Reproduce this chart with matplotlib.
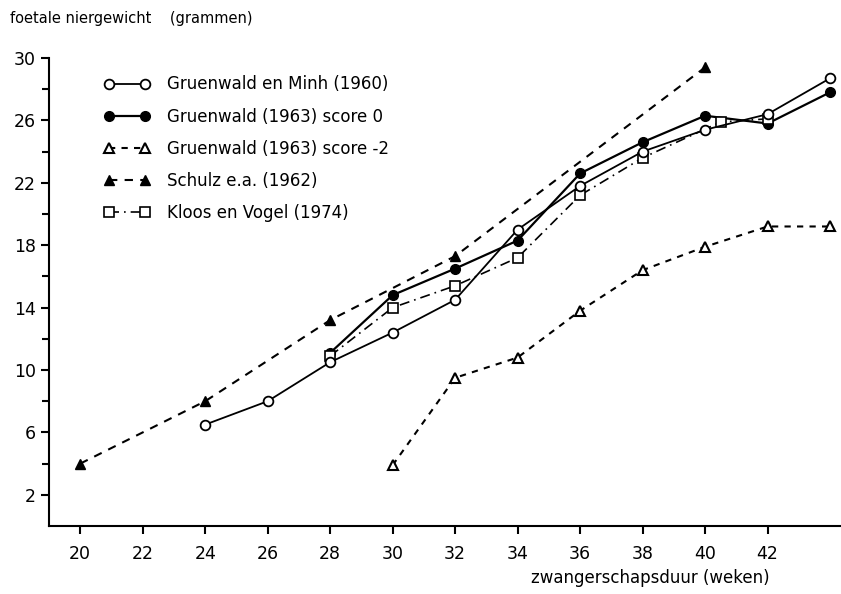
import matplotlib.pyplot as plt
import numpy as np

plt.rcParams['font.family'] = ['DejaVu Sans']

# Gruenwald en Minh (1960)
weeks_gm = [24, 26, 28, 30, 32, 34, 36, 38, 40, 42, 44]
kidney_gm = [6.5, 8.0, 10.5, 12.4, 14.5, 19.0, 21.8, 24.0, 25.4, 26.4, 28.7]

# Gruenwald (1963) score 0
weeks_g0 = [28, 30, 32, 34, 36, 38, 40, 42, 44]
kidney_g0 = [11.1, 14.8, 16.5, 18.3, 22.6, 24.6, 26.3, 25.8, 27.8]

# Gruenwald (1963) score -2
weeks_g2 = [30, 32, 34, 36, 38, 40, 42, 44]
kidney_g2 = [3.9, 9.5, 10.8, 13.8, 16.4, 17.9, 19.2, 19.2]

# Schulz e.a. (1962)
weeks_sch = [20, 24, 28, 32, 40]
kidney_sch = [4.0, 8.0, 13.2, 17.3, 29.4]

# Kloos en Vogel (1974)
weeks_kv = [28, 30, 32, 34, 36, 38, 40.5, 42]
kidney_kv = [10.9, 14.0, 15.4, 17.2, 21.2, 23.6, 25.9, 26.1]

labels = ["Gruenwald en Minh (1960)", "Gruenwald (1963) score 0",
          "Gruenwald (1963) score -2", "Schulz e.a. (1962)",
          "Kloos en Vogel (1974)"]

fig = plt.figure(figsize=(8.41, 5.94), dpi=100)
ax = fig.add_axes([49/841, 68/594, 1 - 49/841, 468/594])

ax.plot(weeks_gm, kidney_gm, '-', color='black', lw=1.3, marker='o', ms=7,
        mfc='white', mec='black', mew=1.3, label=labels[0], clip_on=False, zorder=4)
ax.plot(weeks_g0, kidney_g0, '-', color='black', lw=1.6, marker='o', ms=7,
        mfc='black', mec='black', label=labels[1], clip_on=False, zorder=3)
ax.plot(weeks_g2, kidney_g2, color='black', lw=1.5, ls=(0, (3, 3)), marker='^', ms=7,
        mfc='white', mec='black', mew=1.5, label=labels[2], clip_on=False)
ax.plot(weeks_sch, kidney_sch, color='black', lw=1.5, ls=(0, (4, 3.5)), marker='^', ms=7,
        mfc='black', mec='black', label=labels[3], clip_on=False)
ax.plot(weeks_kv, kidney_kv, color='black', lw=1.2, ls=(0, (6, 3, 1, 3)), marker='s', ms=6.5,
        mfc='white', mec='black', mew=1.2, label=labels[4], clip_on=False, zorder=3)

ax.set_xlim(19, 44.35)
ax.set_ylim(0, 30)
ax.set_xticks(range(20, 43, 2))
ax.set_yticks(range(2, 31, 4))
ax.set_yticks(range(4, 30, 4), minor=True)
ax.tick_params(axis='both', direction='out', width=1.5, labelsize=12.5, length=6)
ax.tick_params(axis='y', which='minor', length=5, width=1.5)
ax.tick_params(axis='x', pad=8)

for s in ['top', 'right']:
    ax.spines[s].set_visible(False)
for s in ['left', 'bottom']:
    ax.spines[s].set_linewidth(1.5)

leg = ax.legend(loc='upper left', bbox_to_anchor=(0.05, 0.995), frameon=False,
                fontsize=12, numpoints=2, handlelength=2.8, labelspacing=0.85,
                handletextpad=1.0)

fig.text(10/841, 1 - 18/594, "foetale niergewicht    (grammen)", fontsize=10.5,
         va='center', ha='left')
fig.text(770/841, 1 - 578/594, "zwangerschapsduur (weken)", fontsize=12,
         va='center', ha='right')

fig.savefig('out.png', dpi=100)
